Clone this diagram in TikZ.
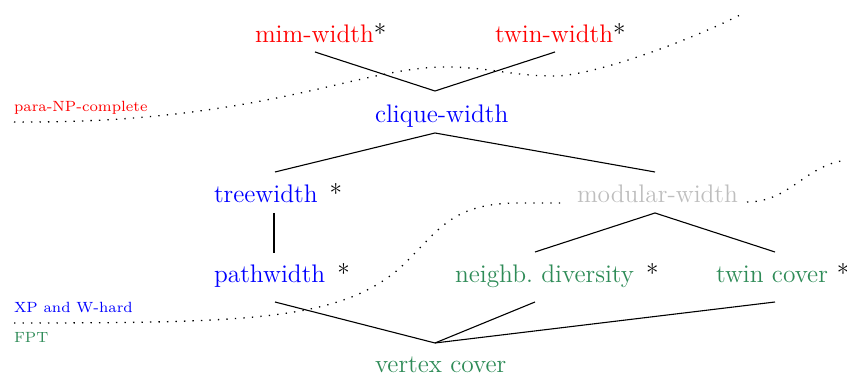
\documentclass[tikz,border=0pt]{standalone}
\definecolor{cred}{RGB}{255,0,0}
\definecolor{cblue}{RGB}{0,0,255}
\definecolor{cgreen}{RGB}{46,139,87}
\definecolor{cgray}{RGB}{190,190,190}
\newcommand{\gstar}{\hspace{6pt}*}
\begin{document}
\begin{tikzpicture}[x=0.5pt,y=-0.5pt,
  lbl/.style={anchor=base west,inner sep=0pt,outer sep=0pt,font=\fontsize{12.7}{14}\selectfont},
  cls/.style={anchor=base west,inner sep=0pt,outer sep=0pt,font=\fontsize{7.4}{8}\selectfont},
  edge/.style={line width=0.55pt},
  bound/.style={line width=0.65pt,dash pattern=on 0.65pt off 3.6pt}]
\useasboundingbox (0,0) rectangle (847,378);

% boundaries
\draw[bound] (14,122) .. controls (260,124) and (360,67) .. (445,67)
  .. controls (490,67) and (510,76) .. (555,76)
  .. controls (590,76) and (680,45) .. (740,15);
\draw[bound] (14,323) .. controls (250,323) and (340,320) .. (400,268)
  .. controls (440,230) and (450,203) .. (520,203) -- (567,203);
\draw[bound] (747,202) .. controls (790,202) and (805,165) .. (847,160);

% class labels
\node[cls,text=cred] (np) at (14,112) {para-NP-complete};
\node[cls,text=cblue] (xp) at (14,313) {XP and W-hard};
\node[cls,text=cgreen] (fpt) at (14,343) {FPT};

% parameters
\node[lbl] (mim) at (255,43) {\textcolor{cred}{mim-width}*};
\node[lbl] (tww) at (495,43) {\textcolor{cred}{twin-width}*};
\node[lbl,text=cblue] (cw) at (375,123) {clique-width};
\node[lbl] (tw) at (214,203) {\textcolor{cblue}{treewidth}\gstar};
\node[lbl,text=cgray] (mw) at (577,203) {modular-width};
\node[lbl] (pw) at (214,283) {\textcolor{cblue}{pathwidth}\gstar};
\node[lbl] (nd) at (455,283) {\textcolor{cgreen}{neighb.\ diversity}\gstar};
\node[lbl] (tc) at (716,283) {\textcolor{cgreen}{twin cover}\hspace{4.5pt}*};
\node[lbl,text=cgreen] (vc) at (375,373) {vertex cover};

% connector ends
\coordinate (mimS) at (315,52);
\coordinate (twwS) at (555,52);
\coordinate (cwN) at (435,91);
\coordinate (cwS) at (435,133);
\coordinate (twN) at (275,172);
\coordinate (mwN) at (655,172);
\coordinate (twS) at (274,213);
\coordinate (pwN) at (274,253);
\coordinate (mwS) at (655,213);
\coordinate (ndN) at (535,252);
\coordinate (tcN) at (775,252);
\coordinate (pwS) at (275,302);
\coordinate (ndS) at (535,302);
\coordinate (tcS) at (775,302);
\coordinate (vcN) at (435,343);

\draw[edge] (mimS) -- (cwN) -- (twwS);
\draw[edge] (twN) -- (cwS) -- (mwN);
\draw[edge] (twS) -- (pwN);
\draw[edge] (ndN) -- (mwS) -- (tcN);
\draw[edge] (pwS) -- (vcN) -- (ndS);
\draw[edge] (vcN) -- (tcS);
\end{tikzpicture}
\end{document}
